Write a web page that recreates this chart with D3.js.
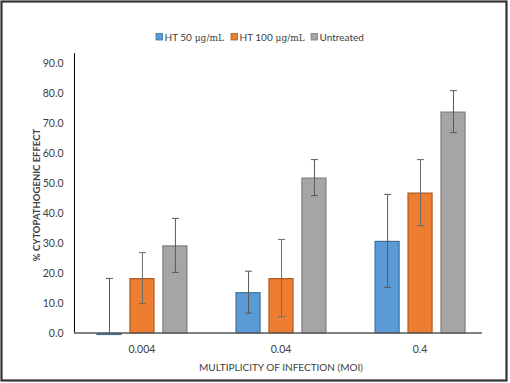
<!DOCTYPE html>
<html>
<head>
<meta charset="utf-8">
<script src="https://cdn.jsdelivr.net/npm/d3@7"></script>
<style>
  body { margin: 0; background: #fff; }
  svg text { font-family: Lato, "Open Sans", sans-serif; fill: #404040; }
</style>
</head>
<body>
<div id="chart"></div>
<script>
const w = 510,
      h = 383;

// data
const mois = ['0.004', '0.04', '0.4'];
const seriesNames = ['HT 50', 'HT 100', 'Untreated'];
const ht50 = [-0.5, 13.6, 30.7];
const ht50Err = [18.7, 7.0, 15.5];
const ht100 = [18.3, 18.3, 46.8];
const ht100Err = [8.5, 12.9, 11.0];
const untreated = [29.2, 51.8, 73.8];
const untreatedErr = [9.0, 6.0, 7.0];
const yTicks = [0, 10, 20, 30, 40, 50, 60, 70, 80, 90];

const fills = ['#5b9bd5', '#ed7d31', '#a5a5a5'];
const strokes = ['#41719c', '#ae5a21', '#7f7f7f'];

const values = [ht50, ht100, untreated];
const errs = [ht50Err, ht100Err, untreatedErr];

const rows = [];
mois.forEach((m, i) => {
  seriesNames.forEach((s, j) => {
    rows.push({ moi: m, series: s, idx: j, value: values[j][i], err: errs[j][i] });
  });
});

const svg = d3.select('#chart')
  .append('svg')
  .attr('width', w)
  .attr('height', h);

// outer frame
svg.append('rect')
   .attr('x', 1.5)
   .attr('y', 1.5)
   .attr('width', 505)
   .attr('height', 379)
   .attr('fill', 'none')
   .attr('stroke', '#333')
   .attr('stroke-width', 2.2);

const yScale = d3.scaleLinear()
  .domain([0, 90])
  .range([333, 63]);

const xScale = d3.scaleBand()
  .domain(mois)
  .range([72.5, 489.5])
  .paddingInner(0.353)
  .paddingOuter(0.176);

const xSub = d3.scaleBand()
  .domain(seriesNames)
  .range([0, xScale.bandwidth()])
  .paddingInner(0.27);

// y axis
const yAxis = svg.append('g')
  .attr('transform', 'translate(74.5, 0)')
  .call(d3.axisLeft(yScale).tickValues(yTicks).tickSize(0).tickPadding(11)
    .tickFormat(d3.format('.1f')));
yAxis.select('.domain')
  .attr('d', `M0,${yScale(93.3)}V${yScale(0)}`)
  .attr('stroke', '#000');
yAxis.selectAll('text')
  .style('font-size', '10.5px')
  .attr('fill', '#404040');

svg.append('text')
   .attr('transform', 'rotate(-90)')
   .attr('x', -195)
   .attr('y', 40)
   .attr('text-anchor', 'middle')
   .style('font-size', '9.5px')
   .style('font-weight', 'bold')
   .text('% CYTOPATHOGENIC EFFECT');

// bars
const groups = svg.selectAll('g.grp')
  .data(rows)
  .enter()
  .append('g')
  .attr('class', 'grp');

groups.append('rect')
  .attr('x', d => xScale(d.moi) + xSub(d.series))
  .attr('y', d => yScale(Math.max(0, d.value)) + 0.5)
  .attr('width', xSub.bandwidth())
  .attr('height', d => Math.max(1, Math.abs(yScale(d.value) - yScale(0)) - 0.5))
  .attr('fill', d => fills[d.idx])
  .attr('stroke', d => strokes[d.idx])
  .attr('stroke-width', 1.2);

// x baseline
svg.append('line')
   .attr('x1', 74)
   .attr('x2', 482)
   .attr('y1', yScale(0))
   .attr('y2', yScale(0))
   .attr('stroke', '#595959')
   .attr('stroke-width', 1.5);

// error bars
const errG = groups.append('g')
  .attr('transform', d => `translate(${xScale(d.moi) + xSub(d.series) + xSub.bandwidth() / 2 + 0.5}, 0)`)
  .attr('stroke', d => d.idx === 1 ? '#6b6b6b' : '#595959')
  .attr('stroke-width', 1);

errG.append('line')
  .attr('y1', d => yScale(d.value + d.err))
  .attr('y2', d => yScale(Math.max(0, d.value - d.err)));
errG.append('line')
  .attr('x1', -3.5).attr('x2', 3.5)
  .attr('y1', d => yScale(d.value + d.err))
  .attr('y2', d => yScale(d.value + d.err));
errG.filter(d => d.value - d.err > 0)
  .append('line')
  .attr('x1', -3.5).attr('x2', 3.5)
  .attr('y1', d => yScale(d.value - d.err))
  .attr('y2', d => yScale(d.value - d.err));

// x labels
svg.selectAll('text.xlab')
   .data(mois)
   .enter()
   .append('text')
   .attr('class', 'xlab')
   .attr('x', d => xScale(d) + xScale.bandwidth() / 2)
   .attr('y', 353)
   .attr('text-anchor', 'middle')
   .style('font-size', '10.5px')
   .text(d => d);

svg.append('text')
   .attr('x', 281)
   .attr('y', 371)
   .attr('text-anchor', 'middle')
   .style('font-size', '10px')
   .text('MULTIPLICITY OF INFECTION (MOI)');

// legend
const legendInfo = [
  { label: 'HT 50', unit: ' μg/mL', x: 156 },
  { label: 'HT 100', unit: ' μg/mL', x: 231 },
  { label: 'Untreated', unit: '', x: 311 }
];

const legend = svg.append('g')
  .selectAll('g')
  .data(legendInfo)
  .enter()
  .append('g')
  .attr('transform', d => `translate(${d.x}, 37)`);

legend.append('rect')
  .attr('x', 0)
  .attr('y', -3.5)
  .attr('width', 6.5)
  .attr('height', 6.5)
  .attr('fill', (d, i) => fills[i])
  .attr('stroke', (d, i) => strokes[i])
  .attr('stroke-width', 0.8);

const lt = legend.append('text')
  .attr('x', 8.5)
  .attr('y', 3.5)
  .style('font-size', '10px');
lt.append('tspan').text(d => d.label);
lt.append('tspan')
  .style('font-family', '"DejaVu Serif", serif')
  .style('font-size', '9px')
  .text(d => d.unit);
</script>
</body>
</html>
